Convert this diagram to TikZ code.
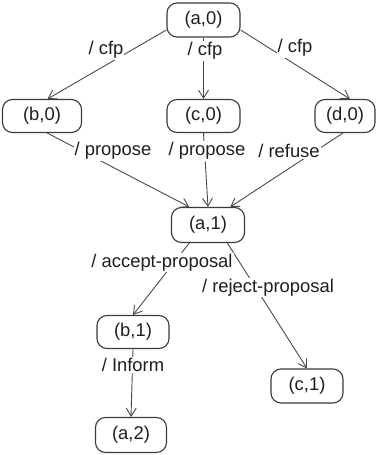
\documentclass[tikz,border=0pt]{standalone}
\usepackage{fontspec}
\setmainfont{Liberation Sans}
\usetikzlibrary{arrows.meta}
\definecolor{edgegray}{HTML}{4A4A4A}
\definecolor{boxgray}{HTML}{3A3A3A}
\definecolor{inkgray}{HTML}{1E1E1E}
\tikzset{
  state/.style={draw=boxgray, line width=1.1pt, rounded corners=10pt,
    minimum height=34pt, inner sep=0pt, text=inkgray,
    font=\fontsize{18.4}{22}\selectfont},
  msg/.style={fill=white, inner sep=1pt, text=inkgray,
    font=\fontsize{18.4}{22}\selectfont},
  trans/.style={draw=edgegray, line width=0.9pt,
    -{Straight Barb[length=8pt,width=10pt,line width=0.9pt]}},
}
\begin{document}
\begin{tikzpicture}[x=1pt,y=-1pt]
  \useasboundingbox (0,0) rectangle (383,455);

  % states
  \node[state, minimum width=73pt] (a0) at (203.5,20) {(a,0)};
  \node[state, minimum width=79pt, minimum height=33pt] (b0) at (42,116) {(b,0)};
  \node[state, minimum width=73pt, minimum height=33pt] (c0) at (203.5,116) {(c,0)};
  \node[state, minimum width=60pt, minimum height=33pt] (d0) at (345,116) {(d,0)};
  \node[state, minimum width=73pt, minimum height=35pt] (a1) at (208,225) {(a,1)};
  \node[state, minimum width=72pt, minimum height=33pt] (b1) at (133,332) {(b,1)};
  \node[state, minimum width=72pt] (c1) at (307,386) {(c,1)};
  \node[state, minimum width=71pt, minimum height=35pt] (a2) at (131,435) {(a,2)};

  % transitions
  \draw[trans] (a0.195) -- (b0.72);
  \draw[trans] (a0.south) -- (c0.north);
  \draw[trans] (a0.345) -- (d0.74);
  \draw[trans] (b0.287) -- (a1.136);
  \draw[trans] (c0.south) -- (a1.north);
  \draw[trans] (d0.263) -- (a1.39);
  \draw[trans] (a1.224) -- (b1.north);
  \draw[trans] (a1.317) -- (c1.north);
  \draw[trans] (b1.south) -- (a2.north);

  % message labels
  \node[msg] (l1) at (106,50) {/ cfp};
  \node[msg] (l2) at (205,51) {/ cfp};
  \node[msg] (l3) at (295,48) {/ cfp};
  \node[msg] (l4) at (113,151) {/ propose};
  \node[msg] (l5) at (207,151) {/ propose};
  \node[msg] (l6) at (289,151) {/ refuse};
  \node[msg] (l7) at (162,262.5) {/ accept-proposal};
  \node[msg] (l8) at (268,287.5) {/ reject-proposal};
  \node[msg] (l9) at (133,365) {/ Inform};
\end{tikzpicture}
\end{document}
